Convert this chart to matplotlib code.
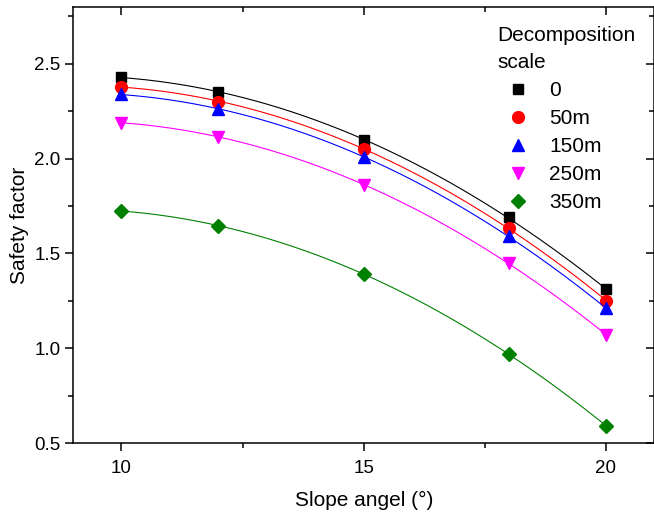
import numpy as np
import matplotlib.pyplot as plt
from matplotlib.ticker import MultipleLocator

plt.rcParams["font.family"] = ["Liberation Sans", "DejaVu Sans"]

slope_angle = [10, 12, 15, 18, 20]
labels = ["0", "50m", "150m", "250m", "350m"]
safety = [
    [2.43, 2.35, 2.10, 1.69, 1.31],
    [2.38, 2.30, 2.05, 1.635, 1.25],
    [2.34, 2.26, 2.01, 1.59, 1.21],
    [2.19, 2.115, 1.86, 1.45, 1.07],
    [1.725, 1.645, 1.39, 0.97, 0.59],
]
colors = ["black", "red", "blue", "magenta", "green"]
markers = ["s", "o", "^", "v", "D"]
msizes = [7.5, 8.5, 8.5, 8.5, 7]

fig = plt.figure(figsize=(6.54, 5.15), dpi=100)
ax = fig.add_axes([0.1116, 0.1398, 0.8890, 0.8466])

xfit = np.linspace(10, 20, 200)
for ys, c, m, ms, lab in zip(safety, colors, markers, msizes, labels):
    coef = np.polyfit(slope_angle, ys, 2)
    ax.plot(xfit, np.polyval(coef, xfit), color=c, lw=0.8)
    ax.plot(slope_angle, ys, ls="none", marker=m, ms=ms, color=c, label=lab)

ax.set_xlim(9, 21)
ax.set_ylim(0.5, 2.8)
ax.xaxis.set_major_locator(MultipleLocator(5))
ax.xaxis.set_minor_locator(MultipleLocator(2.5))
ax.yaxis.set_major_locator(MultipleLocator(0.5))
ax.yaxis.set_minor_locator(MultipleLocator(0.25))

for s in ax.spines.values():
    s.set_linewidth(1.1)
ax.tick_params(which="both", width=1.1, labelsize=13.5)
ax.tick_params(which="major", length=6)
ax.tick_params(which="minor", length=3.5)
ax.tick_params(axis="x", which="both", direction="out", top=True, pad=6)
ax.tick_params(axis="y", which="both", direction="out", right=True, pad=3)
# mirrored ticks point the same way as on the opposite axis (inwards)
for t in ax.xaxis.get_major_ticks() + ax.xaxis.get_minor_ticks():
    t.tick2line.set_marker(3)
for t in ax.yaxis.get_major_ticks() + ax.yaxis.get_minor_ticks():
    t.tick2line.set_marker(0)

ax.set_xlabel("Slope angel (°)", fontsize=15, labelpad=10)
ax.set_ylabel("Safety factor", fontsize=15, labelpad=4)

leg = ax.legend(title="Decomposition\nscale", loc="upper left",
                bbox_to_anchor=(0.697, 1.0), frameon=False, fontsize=15,
                title_fontsize=15, handletextpad=0.5, labelspacing=0.43,
                borderaxespad=0.5)
leg.get_title().set_linespacing(1.55)
leg._legend_box.align = "left"

fig.savefig("out.png", dpi=100)
